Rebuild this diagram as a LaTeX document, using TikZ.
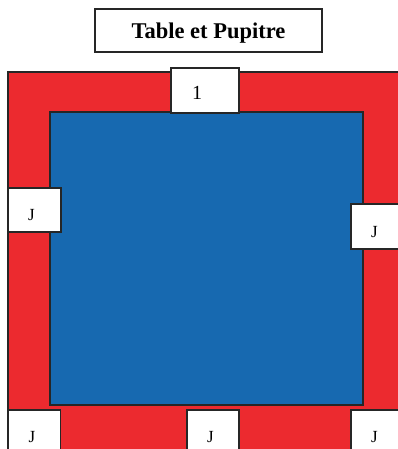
\documentclass[tikz,border=0pt]{standalone}
\usepackage{fontspec}
\setmainfont{Liberation Serif}
\begin{document}
\begin{tikzpicture}[x=1pt,y=-1pt,
  edge/.style={draw=black!85,line width=1.6pt},
  seat/.style={edge,fill=white,rectangle,inner ysep=0pt,inner xsep=20pt,align=left,
    font=\fontsize{17}{17}\selectfont},
  ]
\definecolor{tred}{HTML}{EC2A2F}
\definecolor{tblue}{HTML}{1769B0}
\useasboundingbox (0,0) rectangle (398,449);
\clip (0,0) rectangle (398,449);
% table surround and top
\draw[edge,fill=tred] (8,72) rectangle (430,480);
\draw[edge,fill=tblue] (50,112) rectangle (363,405);
% title
\node[edge,minimum width=227pt,minimum height=43pt,inner sep=0pt,
  font=\bfseries\fontsize{22.5}{22.5}\selectfont] (title) at (208.5,30.5)
  {\raisebox{-8pt}[0pt][0pt]{Table et Pupitre}};
% seats
\node[seat,text width=26pt,minimum height=45pt,inner xsep=21pt,
  font=\fontsize{20}{20}\selectfont] (s1) at (205,90.5) {\raisebox{-9pt}[0pt][0pt]{1}};
\node[seat,text width=13pt,minimum height=44pt] (jl) at (34.5,210) {\raisebox{-10.5pt}[0pt][0pt]{J}};
\node[seat,text width=14pt,minimum height=45pt] (jr) at (378,226.5) {\raisebox{-10.5pt}[0pt][0pt]{J}};
\node[seat,text width=12pt,minimum height=50pt] (jbl) at (34.5,435) {\raisebox{-7pt}[0pt][0pt]{J}};
\node[seat,text width=12pt,minimum height=50pt] (jbm) at (213,435) {\raisebox{-7pt}[0pt][0pt]{J}};
\node[seat,text width=14pt,minimum height=50pt] (jbr) at (378,435) {\raisebox{-7pt}[0pt][0pt]{J}};
\end{tikzpicture}
\end{document}
